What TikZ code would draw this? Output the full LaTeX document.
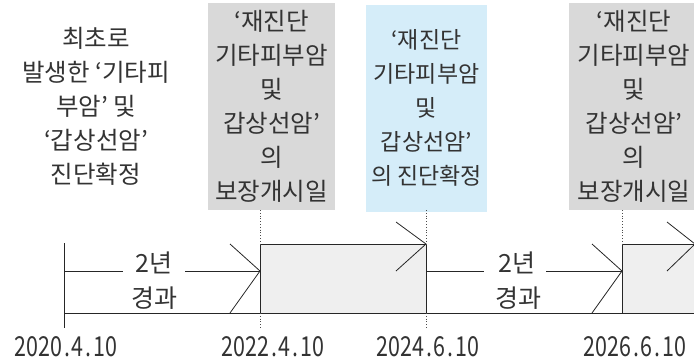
\documentclass[tikz,border=0pt]{standalone}
\usepackage{fontspec}
\setmainfont{Noto Sans CJK KR}
\definecolor{txt}{HTML}{333333}
\definecolor{boxgray}{HTML}{D9D9D9}
\definecolor{boxblue}{HTML}{D5EDF9}
\definecolor{bandgray}{HTML}{EFEFEF}
\newcommand{\datetext}[1]{\scalebox{0.78}[1]{#1}}
\newcommand{\dt}{\kern2.2pt.\kern2.2pt}
\begin{document}
\begin{tikzpicture}[x=1pt,y=-1pt,
  label/.style={inner sep=0pt, align=center, text=txt, font=\fontsize{24.5}{34}\selectfont},
  topbox/.style={label, minimum height=207pt},
  datelbl/.style={inner sep=0pt, text=txt, font=\fontsize{27.5}{27.5}\selectfont, anchor=base},
  tl/.style={line width=0.8pt, draw=black!85},
  dots/.style={line width=0.8pt, draw=black!70, dotted}
]
\useasboundingbox (0,0) rectangle (694,362);
\clip (0,0) rectangle (694,362);

% top boxes
\node[topbox, fill=boxgray, minimum width=127pt] (b1) at (271.5,106.5)
  {‘재진단\\기타피부암\\및\\갑상선암’\\의\\보장개시일};
\node[topbox, fill=boxblue, minimum width=121pt, font=\fontsize{23}{34}\selectfont] (b2) at (426.5,108)
  {‘재진단\\기타피부암\\및\\갑상선암’\\의 진단확정};
\node[topbox, fill=boxgray, minimum width=130pt] (b3) at (634,106.5)
  {‘재진단\\기타피부암\\및\\갑상선암’\\의\\보장개시일};
\node[label] (b0) at (96,106)
  {최초로\\발생한 ‘기타피\\부암’ 및\\‘갑상선암’\\진단확정};

% coordinates
\coordinate (s0) at (64,271);
\coordinate (v0t) at (64,243);
\coordinate (v0b) at (64,328);
\coordinate (base0) at (64,313);
\coordinate (base1) at (700,313);
\coordinate (p1) at (260,271);
\coordinate (p2) at (426,244);
\coordinate (p2m) at (426,271);
\coordinate (p3) at (622,271);
\coordinate (p4) at (695,244);
\coordinate (g1t) at (260,210);
\coordinate (g2t) at (426,210);
\coordinate (g3t) at (622,210);

% bands
\draw[tl, fill=bandgray] (260,244) rectangle (426,313);
\draw[tl, fill=bandgray] (622,244) rectangle (710,313);

% timeline lines
\draw[tl] (v0t) -- (v0b);
\draw[tl] (base0) -- (base1);

% arrow 1
\node[label, font=\fontsize{25}{25}\selectfont] (y1) at (154,263) {2년};
\node[label, font=\fontsize{25}{25}\selectfont] (g1) at (154,298) {경과};
\draw[tl] (s0) -- (123,271);
\draw[tl] (185,271) -- (p1);
\draw[tl] (230,244) -- (p1) -- (230,313);

% top chevron A
\draw[tl] (396,222) -- (p2) -- (396,271);

% arrow 2
\node[label, font=\fontsize{25}{25}\selectfont] (y2) at (517,263) {2년};
\node[label, font=\fontsize{25}{25}\selectfont] (g2) at (518,298) {경과};
\draw[tl] (p2m) -- (484,271);
\draw[tl] (546,271) -- (p3);
\draw[tl] (592,244) -- (p3) -- (592,313);

% top chevron B
\draw[tl] (667,222) -- (p4) -- (667,271);

% dotted guides
\draw[dots] (g1t) -- (260,244);
\draw[dots] (260,313) -- (260,328);
\draw[dots] (g2t) -- (426,244);
\draw[dots] (426,313) -- (426,328);
\draw[dots] (g3t) -- (622,244);

% dates
\node[datelbl] (d0) at (66,356) {\datetext{2020\dt4\dt10}};
\node[datelbl] (d1) at (273,356) {\datetext{2022\dt4\dt10}};
\node[datelbl] (d2) at (428,356) {\datetext{2024\dt6\dt10}};
\node[datelbl] (d3) at (635,356) {\datetext{2026\dt6\dt10}};
\end{tikzpicture}
\end{document}
